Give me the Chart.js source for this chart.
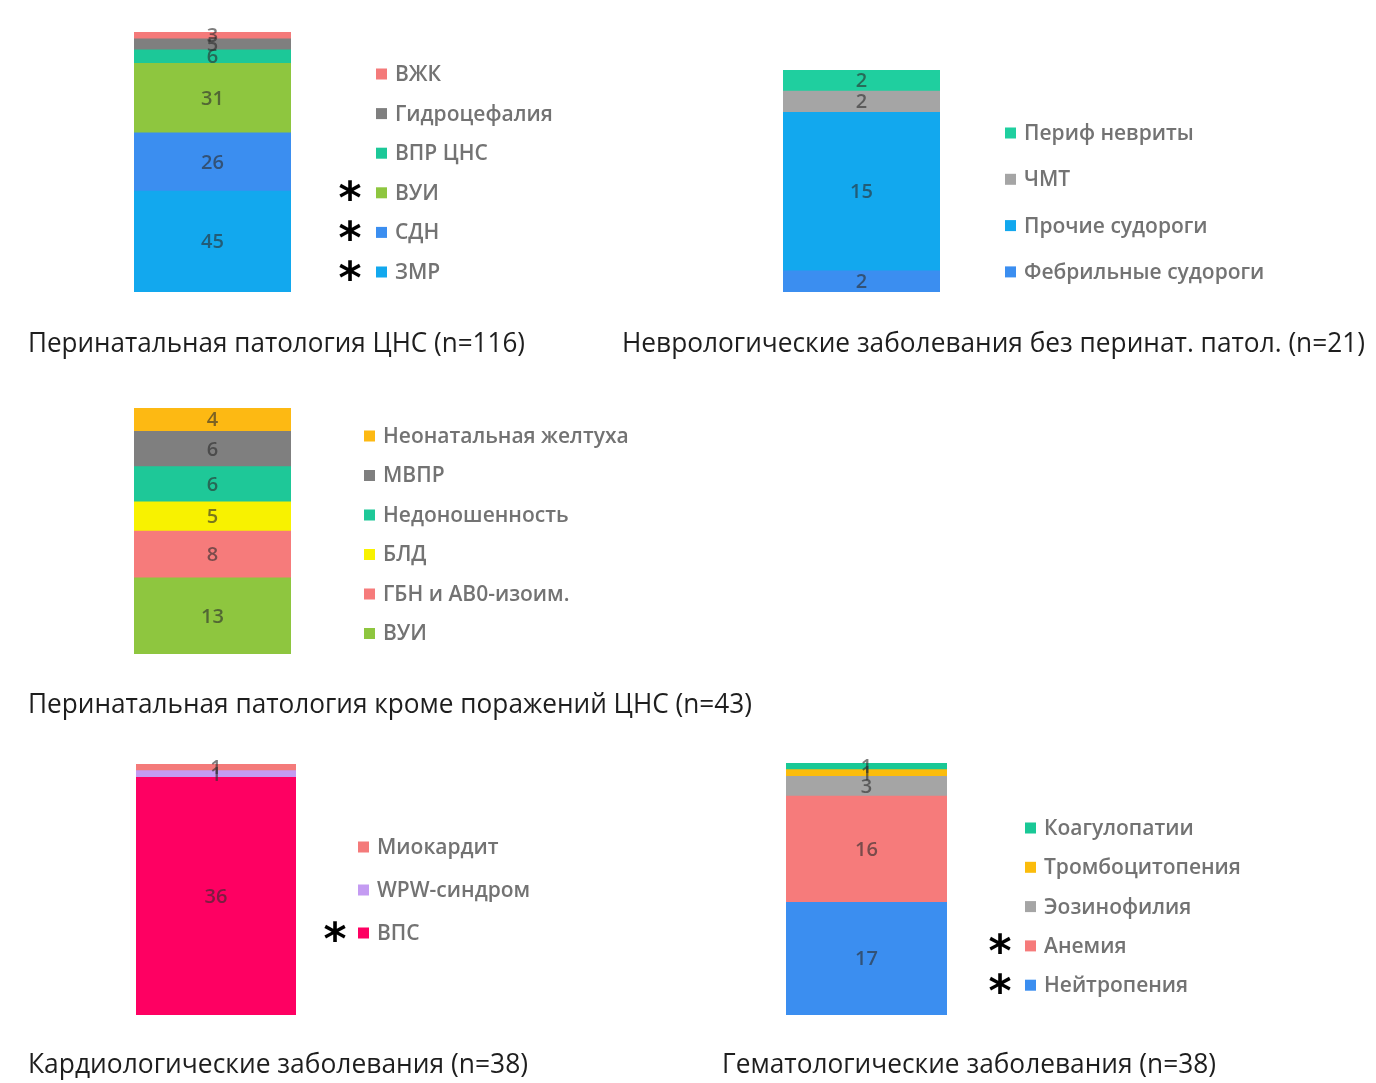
<!DOCTYPE html>
<html lang="ru">
<head>
<meta charset="utf-8">
<title>Структура заболеваний</title>
<script src="https://cdn.jsdelivr.net/npm/chart.js@4.4.1/dist/chart.umd.min.js"></script>
<style>
  html, body { margin: 0; padding: 0; background: #ffffff; }
  body { width: 1376px; height: 1083px; position: relative; overflow: hidden; }
  canvas { position: absolute; left: 0; top: 0; }
</style>
</head>
<body>
<script>
// ---- Data: segments listed from the bottom of each bar upwards ----

// Перинатальная патология ЦНС
const cnsLabels = ['ЗМР', 'СДН', 'ВУИ', 'ВПР ЦНС', 'Гидроцефалия', 'ВЖК'];
const cnsValues = [45, 26, 31, 6, 5, 3];
const cnsMarked = [true, true, true, false, false, false];

// Неврологические заболевания без перинатальной патологии
const neuroLabels = ['Фебрильные судороги', 'Прочие судороги', 'ЧМТ', 'Периф невриты'];
const neuroValues = [2, 15, 2, 2];
const neuroMarked = [false, false, false, false];

// Перинатальная патология кроме поражений ЦНС
const periLabels = ['ВУИ', 'ГБН и АВ0-изоим.', 'БЛД', 'Недоношенность', 'МВПР', 'Неонатальная желтуха'];
const periValues = [13, 8, 5, 6, 6, 4];
const periMarked = [false, false, false, false, false, false];

// Кардиологические заболевания
const cardioLabels = ['ВПС', 'WPW-синдром', 'Миокардит'];
const cardioValues = [36, 1, 1];
const cardioMarked = [true, false, false];

// Гематологические заболевания
const hemaLabels = ['Нейтропения', 'Анемия', 'Эозинофилия', 'Тромбоцитопения', 'Коагулопатии'];
const hemaValues = [17, 16, 3, 1, 1];
const hemaMarked = [true, true, false, false, false];

// Panel captions
const cnsTitle = 'Перинатальная патология ЦНС (n=116)';
const neuroTitle = 'Неврологические заболевания без перинат. патол. (n=21)';
const periTitle = 'Перинатальная патология кроме поражений ЦНС (n=43)';
const cardioTitle = 'Кардиологические заболевания (n=38)';
const hemaTitle = 'Гематологические заболевания (n=38)';

// ---- Styles ----
const cnsColors = ['#12a8ee', '#3b8ef0', '#8ec63f', '#1cc898', '#7f7f7f', '#f47a7a'];
const neuroColors = ['#3b8ef0', '#12a8ee', '#a5a5a5', '#1fcf9f'];
const periColors = ['#8ec63f', '#f67b7b', '#f8f200', '#1ec898', '#7f7f7f', '#fdb913'];
const cardioColors = ['#fe0062', '#c49bf2', '#f47a7a'];
const hemaColors = ['#3b8ef0', '#f67b7b', '#a5a5a5', '#fbbc0c', '#19c896'];

const PAGE_W = 1376, PAGE_H = 1083;
const LEGEND_FONT = '600 21px "Open Sans"';
const VALUE_FONT = '600 20px "Open Sans"';
const CAPTION_FONT = '500 27px "Open Sans"';

// Draws the value of every segment in the middle of that segment
const segmentValues = {
  id: 'segmentValues',
  afterDatasetsDraw(chart) {
    const ctx = chart.ctx;
    ctx.save();
    ctx.font = VALUE_FONT;
    ctx.fillStyle = 'rgba(45,45,45,0.62)';
    ctx.textAlign = 'center';
    ctx.textBaseline = 'middle';
    chart.data.datasets.forEach((ds, i) => {
      const bar = chart.getDatasetMeta(i).data[0];
      const props = bar.getProps(['x', 'y', 'base'], true);
      ctx.fillText(String(ds.data[0]), props.x, (props.y + props.base) / 2 + 1);
    });
    ctx.restore();
  }
};

// Legend to the right of the bar (top segment first), significance asterisks and caption
const panelDecor = {
  id: 'panelDecor',
  afterDraw(chart, args, opts) {
    const ctx = chart.ctx;
    const sets = chart.data.datasets;
    const n = sets.length;
    ctx.save();
    for (let k = 0; k < n; k++) {
      const ds = sets[n - 1 - k];
      const cy = opts.legendY + k * opts.legendGap;
      ctx.fillStyle = ds.backgroundColor;
      ctx.fillRect(opts.legendX, cy - 5.5, 11, 11);
      ctx.font = LEGEND_FONT;
      ctx.fillStyle = '#737373';
      ctx.textAlign = 'left';
      ctx.textBaseline = 'middle';
      ctx.fillText(ds.label, opts.legendX + 19, cy + 1);
      if (ds.marked) {
        ctx.font = 'bold 44px "DejaVu Sans"';
        ctx.fillStyle = '#000000';
        ctx.textAlign = 'center';
        ctx.textBaseline = 'alphabetic';
        const m = ctx.measureText('*');
        const off = (m.actualBoundingBoxAscent - m.actualBoundingBoxDescent) / 2;
        ctx.fillText('*', opts.starX, cy - 2 + off);
      }
    }
    // caption, fitted to its width
    ctx.font = CAPTION_FONT;
    ctx.fillStyle = '#1e1e1e';
    ctx.textAlign = 'left';
    ctx.textBaseline = 'alphabetic';
    const w = ctx.measureText(opts.title).width;
    ctx.translate(opts.titleX, opts.titleY);
    ctx.scale(opts.titleW / w, 1);
    ctx.fillText(opts.title, 0, 0);
    ctx.restore();
  }
};

function makePanel(labels, values, marked, colors, bar, decor) {
  const canvas = document.createElement('canvas');
  canvas.width = PAGE_W;
  canvas.height = PAGE_H;
  document.body.appendChild(canvas);
  const total = values.reduce((a, b) => a + b, 0);
  new Chart(canvas, {
    type: 'bar',
    data: {
      labels: [''],
      datasets: labels.map((label, i) => ({
        label,
        data: [values[i]],
        marked: marked[i],
        backgroundColor: colors[i],
        borderWidth: 0,
        barPercentage: 1,
        categoryPercentage: 1
      }))
    },
    options: {
      responsive: false,
      animation: false,
      events: [],
      layout: {
        padding: {
          left: bar.left,
          right: PAGE_W - bar.right,
          top: bar.top,
          bottom: PAGE_H - bar.bottom
        }
      },
      scales: {
        x: { stacked: true, display: false },
        y: { stacked: true, display: false, min: 0, max: total }
      },
      plugins: {
        legend: { display: false },
        tooltip: { enabled: false },
        title: { display: false },
        panelDecor: decor
      }
    },
    plugins: [segmentValues, panelDecor]
  });
}

makePanel(cnsLabels, cnsValues, cnsMarked, cnsColors,
  { left: 134, right: 291, top: 32, bottom: 292 },
  { legendX: 376, legendY: 74, legendGap: 39.6, starX: 350, title: cnsTitle, titleX: 28, titleY: 352, titleW: 497 });

makePanel(neuroLabels, neuroValues, neuroMarked, neuroColors,
  { left: 783, right: 940, top: 70, bottom: 292 },
  { legendX: 1005, legendY: 133, legendGap: 46.3, starX: 980, title: neuroTitle, titleX: 622, titleY: 352, titleW: 743 });

makePanel(periLabels, periValues, periMarked, periColors,
  { left: 134, right: 291, top: 408, bottom: 654 },
  { legendX: 364, legendY: 436, legendGap: 39.5, starX: 340, title: periTitle, titleX: 28, titleY: 713, titleW: 724 });

makePanel(cardioLabels, cardioValues, cardioMarked, cardioColors,
  { left: 136, right: 296, top: 764, bottom: 1015 },
  { legendX: 358, legendY: 847, legendGap: 43, starX: 335, title: cardioTitle, titleX: 28, titleY: 1073, titleW: 500 });

makePanel(hemaLabels, hemaValues, hemaMarked, hemaColors,
  { left: 786, right: 947, top: 763, bottom: 1015 },
  { legendX: 1025, legendY: 828, legendGap: 39.3, starX: 1000, title: hemaTitle, titleX: 722, titleY: 1073, titleW: 494 });
</script>
</body>
</html>
